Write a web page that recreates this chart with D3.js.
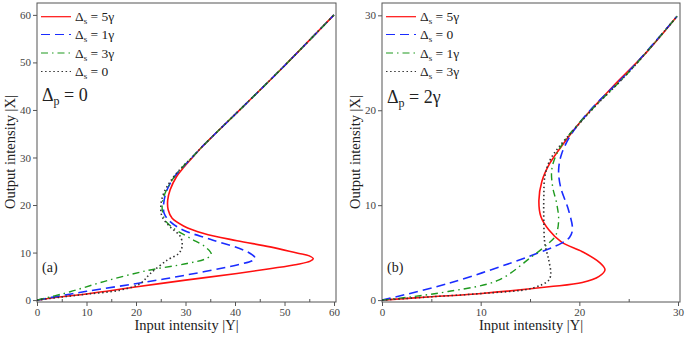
<!DOCTYPE html>
<html>
<head>
<meta charset="utf-8">
<script src="https://cdn.jsdelivr.net/npm/d3@7"></script>
<style>
  body { margin: 0; background: #fff; }
  svg text { font-family: "Liberation Serif", "Times New Roman", serif; }
</style>
</head>
<body>
<div id="chart"></div>
<script>
// points are [input |Y|, output |X|]
const redA = [[0,0],[5,0.7],[10,1.3],[20.2,2.8],[30,4.2],[40.4,5.6],[47,6.6],[52.5,7.5],[55.2,8.2],[55.8,8.7],[55,9.3],[52.5,9.9],[47.1,11.2],[40.4,12.5],[33.7,14],[29.6,15.6],[27.3,17.2],[26.5,19],[26.4,21],[26.9,23.2],[28.2,26],[29.7,28],[31.4,30],[33.3,32.2],[36.2,35.2],[43,42.1],[49.8,49.1],[60,60]];
const blueA = [[0,0],[5,0.95],[10,1.85],[20.2,3.5],[30.3,5.3],[40.4,7.4],[43.5,8.3],[44.1,8.8],[43.5,9.5],[41.8,10.5],[35,12.8],[29.6,14.7],[26.9,16.5],[25.7,18.2],[25.6,20.4],[26.2,23],[27.8,26],[29.6,28.1],[31.4,30.1],[33.3,32.2],[36.2,35.2],[43,42.1],[49.8,49.1],[60,60]];
const greenA = [[0,0],[3,0.75],[6.7,1.75],[13.5,3.9],[22.2,6.2],[30.3,7.7],[34.3,8.8],[35.2,9.7],[34,11.2],[31,13],[27.6,15.1],[25.9,16.8],[25.3,19],[25.5,21.4],[26.6,24],[28,26.3],[29.6,28.2],[31.4,30.1],[33.3,32.2],[36.2,35.2],[43,42.1],[49.8,49.1],[60,60]];
const blackA = [[0,0],[5,0.65],[10.1,1.26],[16.8,2.1],[20.9,3.5],[22.9,5.6],[26.3,8.4],[28.6,9.8],[29.3,11.2],[29,13.3],[26.9,15.4],[25.3,17.5],[25,19.6],[25.6,22.5],[27.3,25.5],[29.5,28.2],[31.4,30.1],[33.3,32.2],[36.2,35.2],[43,42.1],[49.8,49.1],[60,60]];

const redB = [[0,0],[5,0.35],[10.1,0.7],[16.9,1.4],[20.3,1.85],[22,2.5],[22.6,3.2],[22,4],[20.3,5.1],[18.2,6.1],[16.9,7.4],[16.1,8.8],[15.9,10.5],[16.2,12.5],[17,14.4],[18.4,16.5],[20.2,18.9],[23.4,22.5],[26.8,26.1],[29.9,29.9]];
const blueB = [[0,0],[6.7,1.75],[14.9,4.6],[18.2,6],[19,6.6],[19.3,7.4],[18.9,9.5],[18.1,11.9],[17.9,13.7],[18.2,15.4],[19.2,17.5],[21.1,20],[25.1,24.2],[29.9,29.9]];
const greenB = [[0,0],[3,0.35],[6.7,0.9],[11.8,2.1],[15.2,4.6],[16.9,6],[17.6,6.8],[17.9,8.4],[17.7,10.2],[17.3,11.9],[17.2,13.7],[17.7,15.4],[18.8,17.2],[21,19.8],[25,24],[29.9,29.9]];
const blackB = [[0,0],[5,0.35],[10.1,0.7],[15.2,1.25],[16.9,2.1],[17.1,2.8],[16.9,4.2],[16.5,6],[16.4,8.4],[16.4,10.9],[16.5,13],[17,14.7],[17.9,16.1],[19.5,18],[21.5,20.3],[25,24],[29.9,29.9]];

const legendA = ["5γ", "1γ", "3γ", "0"];
const legendB = ["5γ", "0", "1γ", "3γ"];

const styles = [
  {color: "#ff1010", dash: null, width: 1.6},
  {color: "#1a2cff", dash: "9,5", width: 1.6},
  {color: "#1f9a1f", dash: "7,4,1.5,4", width: 1.4},
  {color: "#333333", dash: "1.5,2.6", width: 1.6}
];

const W = 685, H = 337;
const svg = d3.select("#chart").append("svg").attr("width", W).attr("height", H);

function panel(cfg) {
  const x = d3.scaleLinear().domain(cfg.xDom).range([cfg.left, cfg.right]);
  const y = d3.scaleLinear().domain(cfg.yDom).range([302, 3]);
  const g = svg.append("g");

  g.append("clipPath").attr("id", cfg.id + "clip")
    .append("rect").attr("x", cfg.left).attr("y", 3)
    .attr("width", cfg.right - cfg.left).attr("height", 299);

  // minor ticks on the bottom axis, inside the frame
  g.append("g").attr("transform", "translate(0,302)")
    .call(d3.axisBottom(x).tickValues(cfg.minor).tickSize(-3).tickFormat(""))
    .call(a => a.select(".domain").remove())
    .selectAll("line").attr("stroke", "#555");

  const xa = g.append("g").attr("transform", "translate(0,302)")
    .call(d3.axisBottom(x).tickValues(cfg.xTicks).tickSize(4).tickPadding(2).tickFormat(d3.format("d")));
  const ya = g.append("g").attr("transform", `translate(${cfg.left},0)`)
    .call(d3.axisLeft(y).tickValues(cfg.yTicks).tickSize(4).tickPadding(2).tickFormat(d3.format("d")));
  [xa, ya].forEach(a => {
    a.select(".domain").remove();
    a.selectAll("line").attr("stroke", "#555");
    a.selectAll("text").attr("fill", "#444").style("font-size", "11px")
      .style("font-family", "'Liberation Serif', serif");
  });

  g.append("rect").attr("x", cfg.left).attr("y", 3)
    .attr("width", cfg.right - cfg.left).attr("height", 299)
    .attr("fill", "none").attr("stroke", "#555").attr("stroke-width", 1);

  const line = d3.line().x(d => x(d[0])).y(d => y(d[1])).curve(d3.curveCatmullRom.alpha(0.5));
  const lines = g.append("g").attr("clip-path", `url(#${cfg.id}clip)`);
  cfg.series.forEach((s, i) => {
    const st = styles[i];
    lines.append("path").datum(s).attr("d", line)
      .attr("fill", "none").attr("stroke", st.color)
      .attr("stroke-width", st.width)
      .attr("stroke-dasharray", st.dash);
  });

  // legend
  const lx = cfg.left + 4;
  const rows = [16.7, 34.5, 53, 71.5];
  cfg.legend.forEach((lab, i) => {
    const st = styles[i];
    g.append("line").attr("x1", lx).attr("x2", lx + 30)
      .attr("y1", rows[i]).attr("y2", rows[i])
      .attr("stroke", st.color).attr("stroke-width", 1.2)
      .attr("stroke-dasharray", st.dash);
    const t = g.append("text").attr("x", lx + 34).attr("y", rows[i] + 4.5)
      .style("font-size", "13.5px").attr("fill", "#222");
    t.append("tspan").text("Δ");
    t.append("tspan").text("s").style("font-size", "9px").attr("dy", 3);
    t.append("tspan").text(" = " + lab).attr("dy", -3);
  });
  const pt = g.append("text").attr("x", lx + 1).attr("y", cfg.pY)
    .style("font-size", "18px").attr("fill", "#222");
  pt.append("tspan").text("Δ");
  pt.append("tspan").text("p").style("font-size", "12px").attr("dy", 4);
  pt.append("tspan").text(" = " + cfg.pLabel).attr("dy", -4);

  g.append("text").attr("x", cfg.left + 5).attr("y", 272)
    .style("font-size", "14px").attr("fill", "#222").text(cfg.tag);

  g.append("text")
    .attr("transform", `translate(${cfg.left - 22},152) rotate(-90)`)
    .attr("text-anchor", "middle").style("font-size", "14.5px").attr("fill", "#222")
    .text("Output intensity |X|");
  g.append("text").attr("x", (cfg.left + cfg.right) / 2).attr("y", 330)
    .attr("text-anchor", "middle").style("font-size", "14.5px").attr("fill", "#222")
    .text("Input intensity |Y|");
}

panel({
  id: "a", left: 37, right: 336, xDom: [0, 60.4], yDom: [-0.4, 62.5],
  xTicks: [0, 10, 20, 30, 40, 50, 60], minor: [5, 15, 25, 35, 45, 55],
  yTicks: [0, 10, 20, 30, 40, 50, 60],
  series: [redA, blueA, greenA, blackA], legend: legendA,
  pLabel: "0", pY: 101, tag: "(a)"
});
panel({
  id: "b", left: 382, right: 680, xDom: [0, 30.2], yDom: [-0.2, 31.3],
  xTicks: [0, 10, 20, 30], minor: [5, 15, 25],
  yTicks: [0, 10, 20, 30],
  series: [redB, blueB, greenB, blackB], legend: legendB,
  pLabel: "2γ", pY: 103, tag: "(b)"
});
</script>
</body>
</html>
